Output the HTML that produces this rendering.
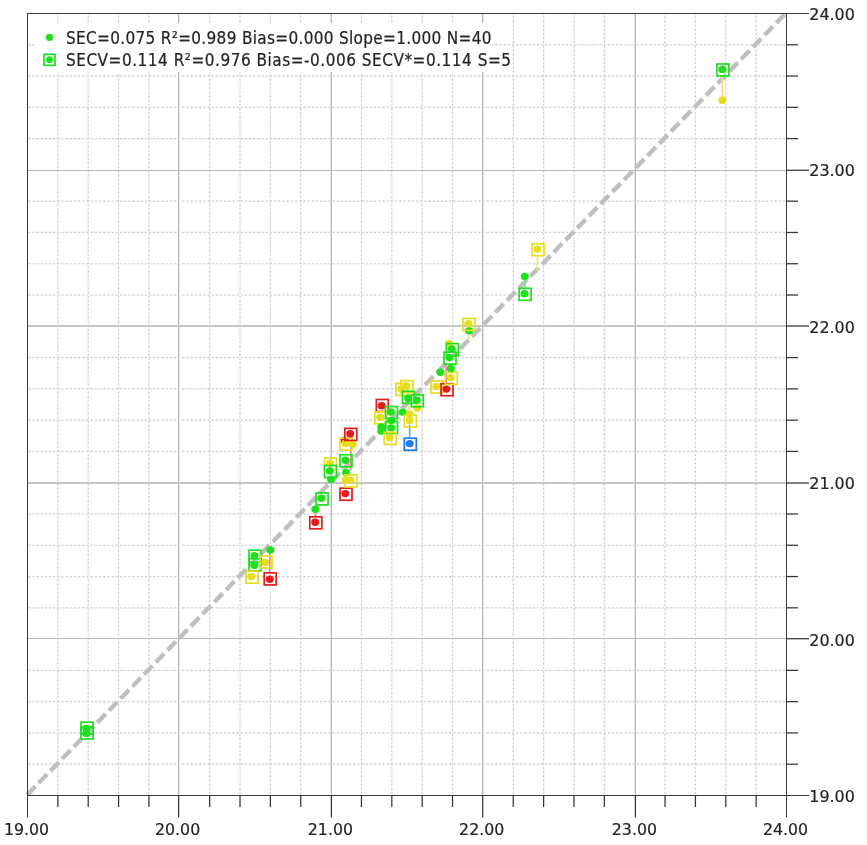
<!DOCTYPE html><html><head><meta charset="utf-8"><style>
html,body{margin:0;padding:0;background:#fff;}
svg{display:block;}
text{font-family:"DejaVu Sans Condensed","DejaVu Sans","Liberation Sans",sans-serif;font-size:17px;fill:#242424;stroke:#242424;stroke-width:0.2px;}
</style></head><body>
<svg width="867" height="845" viewBox="0 0 867 845">
<rect width="867" height="845" fill="#fff"/>

<g stroke="#f3f3f3" stroke-width="1.5" fill="none">
<line x1="57.86" y1="13" x2="57.86" y2="795"/>
<line x1="28" y1="764.22" x2="786" y2="764.22"/>
<line x1="88.22" y1="13" x2="88.22" y2="795"/>
<line x1="28" y1="732.94" x2="786" y2="732.94"/>
<line x1="118.58" y1="13" x2="118.58" y2="795"/>
<line x1="28" y1="701.66" x2="786" y2="701.66"/>
<line x1="148.94" y1="13" x2="148.94" y2="795"/>
<line x1="28" y1="670.38" x2="786" y2="670.38"/>
<line x1="209.66" y1="13" x2="209.66" y2="795"/>
<line x1="28" y1="607.82" x2="786" y2="607.82"/>
<line x1="240.02" y1="13" x2="240.02" y2="795"/>
<line x1="28" y1="576.54" x2="786" y2="576.54"/>
<line x1="270.38" y1="13" x2="270.38" y2="795"/>
<line x1="28" y1="545.26" x2="786" y2="545.26"/>
<line x1="300.74" y1="13" x2="300.74" y2="795"/>
<line x1="28" y1="513.98" x2="786" y2="513.98"/>
<line x1="361.46" y1="13" x2="361.46" y2="795"/>
<line x1="28" y1="451.42" x2="786" y2="451.42"/>
<line x1="391.82" y1="13" x2="391.82" y2="795"/>
<line x1="28" y1="420.14" x2="786" y2="420.14"/>
<line x1="422.18" y1="13" x2="422.18" y2="795"/>
<line x1="28" y1="388.86" x2="786" y2="388.86"/>
<line x1="452.54" y1="13" x2="452.54" y2="795"/>
<line x1="28" y1="357.58" x2="786" y2="357.58"/>
<line x1="513.26" y1="13" x2="513.26" y2="795"/>
<line x1="28" y1="295.02" x2="786" y2="295.02"/>
<line x1="543.62" y1="13" x2="543.62" y2="795"/>
<line x1="28" y1="263.74" x2="786" y2="263.74"/>
<line x1="573.98" y1="13" x2="573.98" y2="795"/>
<line x1="28" y1="232.46" x2="786" y2="232.46"/>
<line x1="604.34" y1="13" x2="604.34" y2="795"/>
<line x1="28" y1="201.18" x2="786" y2="201.18"/>
<line x1="665.06" y1="13" x2="665.06" y2="795"/>
<line x1="28" y1="138.62" x2="786" y2="138.62"/>
<line x1="695.42" y1="13" x2="695.42" y2="795"/>
<line x1="28" y1="107.34" x2="786" y2="107.34"/>
<line x1="725.78" y1="13" x2="725.78" y2="795"/>
<line x1="28" y1="76.06" x2="786" y2="76.06"/>
<line x1="756.14" y1="13" x2="756.14" y2="795"/>
<line x1="28" y1="44.78" x2="786" y2="44.78"/>
</g>
<g stroke="#c4c4c4" stroke-width="1.2" stroke-dasharray="1.4 2.77" fill="none">
<line x1="57.86" y1="12.4" x2="57.86" y2="795"/>
<line x1="28.5" y1="764.22" x2="786" y2="764.22"/>
<line x1="88.22" y1="12.4" x2="88.22" y2="795"/>
<line x1="28.5" y1="732.94" x2="786" y2="732.94"/>
<line x1="118.58" y1="12.4" x2="118.58" y2="795"/>
<line x1="28.5" y1="701.66" x2="786" y2="701.66"/>
<line x1="148.94" y1="12.4" x2="148.94" y2="795"/>
<line x1="28.5" y1="670.38" x2="786" y2="670.38"/>
<line x1="209.66" y1="12.4" x2="209.66" y2="795"/>
<line x1="28.5" y1="607.82" x2="786" y2="607.82"/>
<line x1="240.02" y1="12.4" x2="240.02" y2="795"/>
<line x1="28.5" y1="576.54" x2="786" y2="576.54"/>
<line x1="270.38" y1="12.4" x2="270.38" y2="795"/>
<line x1="28.5" y1="545.26" x2="786" y2="545.26"/>
<line x1="300.74" y1="12.4" x2="300.74" y2="795"/>
<line x1="28.5" y1="513.98" x2="786" y2="513.98"/>
<line x1="361.46" y1="12.4" x2="361.46" y2="795"/>
<line x1="28.5" y1="451.42" x2="786" y2="451.42"/>
<line x1="391.82" y1="12.4" x2="391.82" y2="795"/>
<line x1="28.5" y1="420.14" x2="786" y2="420.14"/>
<line x1="422.18" y1="12.4" x2="422.18" y2="795"/>
<line x1="28.5" y1="388.86" x2="786" y2="388.86"/>
<line x1="452.54" y1="12.4" x2="452.54" y2="795"/>
<line x1="28.5" y1="357.58" x2="786" y2="357.58"/>
<line x1="513.26" y1="12.4" x2="513.26" y2="795"/>
<line x1="28.5" y1="295.02" x2="786" y2="295.02"/>
<line x1="543.62" y1="12.4" x2="543.62" y2="795"/>
<line x1="28.5" y1="263.74" x2="786" y2="263.74"/>
<line x1="573.98" y1="12.4" x2="573.98" y2="795"/>
<line x1="28.5" y1="232.46" x2="786" y2="232.46"/>
<line x1="604.34" y1="12.4" x2="604.34" y2="795"/>
<line x1="28.5" y1="201.18" x2="786" y2="201.18"/>
<line x1="665.06" y1="12.4" x2="665.06" y2="795"/>
<line x1="28.5" y1="138.62" x2="786" y2="138.62"/>
<line x1="695.42" y1="12.4" x2="695.42" y2="795"/>
<line x1="28.5" y1="107.34" x2="786" y2="107.34"/>
<line x1="725.78" y1="12.4" x2="725.78" y2="795"/>
<line x1="28.5" y1="76.06" x2="786" y2="76.06"/>
<line x1="756.14" y1="12.4" x2="756.14" y2="795"/>
<line x1="28.5" y1="44.78" x2="786" y2="44.78"/>
</g>
<g shape-rendering="crispEdges">
<rect x="178" y="13" width="1" height="782" fill="#b4b4b4"/>
<rect x="179" y="13" width="1" height="782" fill="#ececec"/>
<rect x="330" y="13" width="1" height="782" fill="#e6e6e6"/>
<rect x="331" y="13" width="1" height="782" fill="#b8b8b8"/>
<rect x="482" y="13" width="1" height="782" fill="#b8b8b8"/>
<rect x="483" y="13" width="1" height="782" fill="#e6e6e6"/>
<rect x="634" y="13" width="1" height="782" fill="#e6e6e6"/>
<rect x="635" y="13" width="1" height="782" fill="#b8b8b8"/>
<rect x="27" y="170" width="759" height="1" fill="#b8b8b8"/>
<rect x="27" y="325" width="759" height="1" fill="#c6c6c6"/>
<rect x="27" y="326" width="759" height="1" fill="#c6c6c6"/>
<rect x="27" y="482" width="759" height="1" fill="#c6c6c6"/>
<rect x="27" y="483" width="759" height="1" fill="#c6c6c6"/>
<rect x="27" y="638" width="759" height="1" fill="#b6b6b6"/>
</g>
<rect x="35" y="23" width="457" height="49" fill="#fff"/>
<line x1="27" y1="795" x2="786" y2="13" stroke="#bfbfbf" stroke-width="4.4" stroke-dasharray="12 4.81"/>
<line x1="269.8" y1="552" x2="269.8" y2="573" stroke="#f08a8a" stroke-width="1.7"/>
<line x1="315.5" y1="511" x2="315.5" y2="517" stroke="#f08a8a" stroke-width="1.7"/>
<line x1="350.8" y1="441" x2="350.8" y2="470" stroke="#f08a8a" stroke-width="1.7"/>
<line x1="409.0" y1="403" x2="409.0" y2="415" stroke="#eee67a" stroke-width="1.7"/>
<line x1="409.7" y1="425" x2="409.7" y2="437.5" stroke="#6aa8f0" stroke-width="1.7"/>
<line x1="446.1" y1="365" x2="446.1" y2="383.5" stroke="#f08a8a" stroke-width="1.7"/>
<line x1="468.6" y1="331" x2="468.6" y2="340.4" stroke="#eee67a" stroke-width="1.7"/>
<line x1="537.4" y1="256.5" x2="537.4" y2="271" stroke="#eee67a" stroke-width="1.7"/>
<line x1="525.0" y1="280" x2="525.0" y2="288" stroke="#7fe87f" stroke-width="1.7"/>
<line x1="722.3" y1="77" x2="722.3" y2="100" stroke="#eee67a" stroke-width="1.7"/>
<rect x="81.0" y="722.2" width="12" height="12" fill="none" stroke="#1ee11e" stroke-width="1.7"/>
<ellipse cx="86.3" cy="728.4" rx="4.0" ry="3.7" fill="#1ee11e"/>
<rect x="81.0" y="727.0" width="12" height="12" fill="none" stroke="#1ee11e" stroke-width="1.7"/>
<ellipse cx="86.3" cy="733.4" rx="4.0" ry="3.7" fill="#1ee11e"/>
<rect x="249.0" y="550.2" width="12" height="12" fill="none" stroke="#1ee11e" stroke-width="1.7"/>
<ellipse cx="254.4" cy="555.6" rx="4.0" ry="3.7" fill="#1ee11e"/>
<rect x="249.0" y="558.8" width="12" height="12" fill="none" stroke="#1ee11e" stroke-width="1.7"/>
<ellipse cx="254.4" cy="565.2" rx="4.0" ry="3.7" fill="#1ee11e"/>
<rect x="260.0" y="556.0" width="12" height="12" fill="none" stroke="#e6dd1e" stroke-width="1.7"/>
<ellipse cx="265.4" cy="562.5" rx="4.0" ry="3.7" fill="#e6dd1e"/>
<ellipse cx="270.3" cy="550.0" rx="4.0" ry="3.7" fill="#1ee11e"/>
<rect x="264.2" y="572.9" width="12" height="12" fill="none" stroke="#e21c1c" stroke-width="1.7"/>
<ellipse cx="269.8" cy="579.3" rx="4.0" ry="3.7" fill="#e21c1c"/>
<rect x="246.0" y="571.2" width="12" height="12" fill="none" stroke="#e6dd1e" stroke-width="1.7"/>
<ellipse cx="251.4" cy="576.6" rx="4.0" ry="3.7" fill="#e6dd1e"/>
<rect x="316.1" y="492.9" width="12" height="12" fill="none" stroke="#1ee11e" stroke-width="1.7"/>
<ellipse cx="321.5" cy="498.3" rx="4.0" ry="3.7" fill="#1ee11e"/>
<ellipse cx="315.3" cy="509.3" rx="4.0" ry="3.7" fill="#1ee11e"/>
<rect x="309.8" y="516.8" width="12" height="12" fill="none" stroke="#e21c1c" stroke-width="1.7"/>
<ellipse cx="315.2" cy="522.2" rx="4.0" ry="3.7" fill="#e21c1c"/>
<rect x="340.0" y="488.2" width="12" height="12" fill="none" stroke="#e21c1c" stroke-width="1.7"/>
<ellipse cx="345.4" cy="493.6" rx="4.0" ry="3.7" fill="#e21c1c"/>
<ellipse cx="346.0" cy="472.4" rx="4.0" ry="3.7" fill="#1ee11e"/>
<rect x="345.0" y="474.9" width="12" height="12" fill="none" stroke="#e6dd1e" stroke-width="1.7"/>
<ellipse cx="350.4" cy="480.3" rx="4.0" ry="3.7" fill="#e6dd1e"/>
<ellipse cx="345.8" cy="479.8" rx="4.0" ry="3.7" fill="#e6dd1e"/>
<rect x="340.0" y="454.8" width="12" height="12" fill="none" stroke="#1ee11e" stroke-width="1.7"/>
<ellipse cx="345.4" cy="460.2" rx="4.0" ry="3.7" fill="#1ee11e"/>
<ellipse cx="344.5" cy="440.5" rx="4.0" ry="3.7" fill="#e21c1c"/>
<rect x="340.0" y="438.1" width="12" height="12" fill="none" stroke="#e6dd1e" stroke-width="1.7"/>
<ellipse cx="345.4" cy="443.5" rx="4.0" ry="3.7" fill="#e6dd1e"/>
<ellipse cx="352.8" cy="444.2" rx="4.0" ry="3.7" fill="#e6dd1e"/>
<rect x="344.8" y="428.4" width="12" height="12" fill="none" stroke="#e21c1c" stroke-width="1.7"/>
<ellipse cx="350.2" cy="433.8" rx="4.0" ry="3.7" fill="#e21c1c"/>
<rect x="324.5" y="458.0" width="12" height="12" fill="none" stroke="#e6dd1e" stroke-width="1.7"/>
<ellipse cx="329.9" cy="463.4" rx="4.0" ry="3.7" fill="#e6dd1e"/>
<rect x="324.5" y="465.5" width="12" height="12" fill="none" stroke="#1ee11e" stroke-width="1.7"/>
<ellipse cx="329.9" cy="470.9" rx="4.0" ry="3.7" fill="#1ee11e"/>
<ellipse cx="331.0" cy="479.5" rx="4.0" ry="3.7" fill="#1ee11e"/>
<rect x="376.3" y="399.5" width="12" height="12" fill="none" stroke="#e21c1c" stroke-width="1.7"/>
<ellipse cx="381.7" cy="405.7" rx="4.0" ry="3.7" fill="#e21c1c"/>
<rect x="374.8" y="411.8" width="12" height="12" fill="none" stroke="#e6dd1e" stroke-width="1.7"/>
<ellipse cx="380.2" cy="417.2" rx="4.0" ry="3.7" fill="#e6dd1e"/>
<ellipse cx="381.3" cy="427.0" rx="4.0" ry="3.7" fill="#1ee11e"/>
<ellipse cx="381.3" cy="431.0" rx="4.0" ry="3.7" fill="#1ee11e"/>
<rect x="385.5" y="406.6" width="12" height="12" fill="none" stroke="#1ee11e" stroke-width="1.7"/>
<ellipse cx="390.9" cy="412.0" rx="4.0" ry="3.7" fill="#1ee11e"/>
<ellipse cx="391.4" cy="420.4" rx="4.0" ry="3.7" fill="#1ee11e"/>
<rect x="385.5" y="421.5" width="12" height="12" fill="none" stroke="#1ee11e" stroke-width="1.7"/>
<ellipse cx="391.1" cy="427.9" rx="4.0" ry="3.7" fill="#1ee11e"/>
<rect x="384.2" y="432.4" width="12" height="12" fill="none" stroke="#e6dd1e" stroke-width="1.7"/>
<ellipse cx="389.6" cy="437.8" rx="4.0" ry="3.7" fill="#e6dd1e"/>
<rect x="395.9" y="383.5" width="12" height="12" fill="none" stroke="#e6dd1e" stroke-width="1.7"/>
<ellipse cx="401.3" cy="388.9" rx="4.0" ry="3.7" fill="#e6dd1e"/>
<rect x="400.8" y="380.6" width="12" height="12" fill="none" stroke="#e6dd1e" stroke-width="1.7"/>
<ellipse cx="406.2" cy="386.0" rx="4.0" ry="3.7" fill="#e6dd1e"/>
<rect x="402.5" y="391.3" width="12" height="12" fill="none" stroke="#1ee11e" stroke-width="1.7"/>
<ellipse cx="408.2" cy="398.2" rx="4.0" ry="3.7" fill="#1ee11e"/>
<ellipse cx="417.4" cy="408.0" rx="4.0" ry="3.7" fill="#e6dd1e"/>
<rect x="411.4" y="394.8" width="12" height="12" fill="none" stroke="#1ee11e" stroke-width="1.7"/>
<ellipse cx="416.8" cy="400.2" rx="4.0" ry="3.7" fill="#1ee11e"/>
<ellipse cx="402.6" cy="412.1" rx="4.0" ry="3.7" fill="#1ee11e"/>
<ellipse cx="409.7" cy="414.0" rx="4.0" ry="3.7" fill="#e6dd1e"/>
<rect x="404.3" y="415.1" width="12" height="12" fill="none" stroke="#e6dd1e" stroke-width="1.7"/>
<ellipse cx="409.7" cy="420.5" rx="4.0" ry="3.7" fill="#e6dd1e"/>
<rect x="404.3" y="438.2" width="12" height="12" fill="none" stroke="#1e78e6" stroke-width="1.7"/>
<ellipse cx="409.7" cy="443.6" rx="4.0" ry="3.7" fill="#1e78e6"/>
<rect x="431.0" y="381.0" width="12" height="12" fill="none" stroke="#e6dd1e" stroke-width="1.7"/>
<ellipse cx="436.4" cy="386.4" rx="4.0" ry="3.7" fill="#e6dd1e"/>
<rect x="441.0" y="383.7" width="12" height="12" fill="none" stroke="#e21c1c" stroke-width="1.7"/>
<ellipse cx="446.4" cy="389.1" rx="4.0" ry="3.7" fill="#e21c1c"/>
<rect x="445.3" y="372.3" width="12" height="12" fill="none" stroke="#e6dd1e" stroke-width="1.7"/>
<ellipse cx="450.7" cy="377.7" rx="4.0" ry="3.7" fill="#e6dd1e"/>
<ellipse cx="440.4" cy="372.3" rx="4.0" ry="3.7" fill="#1ee11e"/>
<ellipse cx="450.9" cy="368.4" rx="4.0" ry="3.7" fill="#1ee11e"/>
<rect x="444.0" y="352.1" width="12" height="12" fill="none" stroke="#1ee11e" stroke-width="1.7"/>
<ellipse cx="449.4" cy="357.5" rx="4.0" ry="3.7" fill="#1ee11e"/>
<ellipse cx="448.8" cy="343.6" rx="4.0" ry="3.7" fill="#e6dd1e"/>
<rect x="446.4" y="343.6" width="12" height="12" fill="none" stroke="#1ee11e" stroke-width="1.7"/>
<ellipse cx="451.8" cy="349.0" rx="4.0" ry="3.7" fill="#1ee11e"/>
<ellipse cx="469.0" cy="330.8" rx="4.0" ry="3.7" fill="#1ee11e"/>
<rect x="463.0" y="318.4" width="12" height="12" fill="none" stroke="#e6dd1e" stroke-width="1.7"/>
<ellipse cx="468.4" cy="323.8" rx="4.0" ry="3.7" fill="#e6dd1e"/>
<rect x="532.0" y="243.7" width="12" height="12" fill="none" stroke="#e6dd1e" stroke-width="1.7"/>
<ellipse cx="537.4" cy="249.1" rx="4.0" ry="3.7" fill="#e6dd1e"/>
<ellipse cx="524.8" cy="276.4" rx="4.0" ry="3.7" fill="#1ee11e"/>
<rect x="519.1" y="288.3" width="12" height="12" fill="none" stroke="#1ee11e" stroke-width="1.7"/>
<ellipse cx="524.5" cy="293.7" rx="4.0" ry="3.7" fill="#1ee11e"/>
<ellipse cx="722.3" cy="100.2" rx="4.0" ry="3.7" fill="#e6dd1e"/>
<rect x="716.9" y="64.0" width="12" height="12" fill="none" stroke="#1ee11e" stroke-width="1.7"/>
<ellipse cx="722.3" cy="69.4" rx="4.0" ry="3.7" fill="#1ee11e"/>
<g stroke="#3a3a3a" stroke-width="1" fill="none">
<line x1="27.5" y1="13" x2="27.5" y2="817.5"/>
<line x1="786.5" y1="13" x2="786.5" y2="817.5"/>
<line x1="27" y1="13.5" x2="809" y2="13.5"/>
<line x1="27" y1="795.5" x2="809" y2="795.5"/>
</g>
<g stroke="#333" stroke-width="1.25" fill="none">
<line x1="57.86" y1="795" x2="57.86" y2="807"/>
<line x1="786" y1="764.22" x2="798" y2="764.22"/>
<line x1="88.22" y1="795" x2="88.22" y2="807"/>
<line x1="786" y1="732.94" x2="798" y2="732.94"/>
<line x1="118.58" y1="795" x2="118.58" y2="807"/>
<line x1="786" y1="701.66" x2="798" y2="701.66"/>
<line x1="148.94" y1="795" x2="148.94" y2="807"/>
<line x1="786" y1="670.38" x2="798" y2="670.38"/>
<line x1="209.66" y1="795" x2="209.66" y2="807"/>
<line x1="786" y1="607.82" x2="798" y2="607.82"/>
<line x1="240.02" y1="795" x2="240.02" y2="807"/>
<line x1="786" y1="576.54" x2="798" y2="576.54"/>
<line x1="270.38" y1="795" x2="270.38" y2="807"/>
<line x1="786" y1="545.26" x2="798" y2="545.26"/>
<line x1="300.74" y1="795" x2="300.74" y2="807"/>
<line x1="786" y1="513.98" x2="798" y2="513.98"/>
<line x1="361.46" y1="795" x2="361.46" y2="807"/>
<line x1="786" y1="451.42" x2="798" y2="451.42"/>
<line x1="391.82" y1="795" x2="391.82" y2="807"/>
<line x1="786" y1="420.14" x2="798" y2="420.14"/>
<line x1="422.18" y1="795" x2="422.18" y2="807"/>
<line x1="786" y1="388.86" x2="798" y2="388.86"/>
<line x1="452.54" y1="795" x2="452.54" y2="807"/>
<line x1="786" y1="357.58" x2="798" y2="357.58"/>
<line x1="513.26" y1="795" x2="513.26" y2="807"/>
<line x1="786" y1="295.02" x2="798" y2="295.02"/>
<line x1="543.62" y1="795" x2="543.62" y2="807"/>
<line x1="786" y1="263.74" x2="798" y2="263.74"/>
<line x1="573.98" y1="795" x2="573.98" y2="807"/>
<line x1="786" y1="232.46" x2="798" y2="232.46"/>
<line x1="604.34" y1="795" x2="604.34" y2="807"/>
<line x1="786" y1="201.18" x2="798" y2="201.18"/>
<line x1="665.06" y1="795" x2="665.06" y2="807"/>
<line x1="786" y1="138.62" x2="798" y2="138.62"/>
<line x1="695.42" y1="795" x2="695.42" y2="807"/>
<line x1="786" y1="107.34" x2="798" y2="107.34"/>
<line x1="725.78" y1="795" x2="725.78" y2="807"/>
<line x1="786" y1="76.06" x2="798" y2="76.06"/>
<line x1="756.14" y1="795" x2="756.14" y2="807"/>
<line x1="786" y1="44.78" x2="798" y2="44.78"/>
<line x1="178.6" y1="795" x2="178.6" y2="817.5"/>
<line x1="331.4" y1="795" x2="331.4" y2="817.5"/>
<line x1="482.7" y1="795" x2="482.7" y2="817.5"/>
<line x1="635.4" y1="795" x2="635.4" y2="817.5"/>
<line x1="786" y1="638.7" x2="809" y2="638.7"/>
<line x1="786" y1="483.0" x2="809" y2="483.0"/>
<line x1="786" y1="326.0" x2="809" y2="326.0"/>
<line x1="786" y1="170.3" x2="809" y2="170.3"/>
</g>
<circle cx="49.5" cy="37.3" r="3.6" fill="#1ee11e"/>
<rect x="44" y="54.3" width="11" height="11" fill="none" stroke="#1ee11e" stroke-width="1.7"/>
<circle cx="49.5" cy="59.7" r="3.4" fill="#1ee11e"/>
<text x="66" y="43.5" textLength="425.5" lengthAdjust="spacing">SEC=0.075 R²=0.989 Bias=0.000 Slope=1.000 N=40</text>
<text x="66" y="65.5" textLength="445" lengthAdjust="spacing">SECV=0.114 R²=0.976 Bias=-0.006 SECV*=0.114 S=5</text>
<text x="3.90" y="835.4" textLength="45.2" lengthAdjust="spacingAndGlyphs" style="font-size:16.5px">19.00</text>
<text x="155.00" y="835.4" textLength="45.2" lengthAdjust="spacingAndGlyphs" style="font-size:16.5px">20.00</text>
<text x="307.80" y="835.4" textLength="45.2" lengthAdjust="spacingAndGlyphs" style="font-size:16.5px">21.00</text>
<text x="459.10" y="835.4" textLength="45.2" lengthAdjust="spacingAndGlyphs" style="font-size:16.5px">22.00</text>
<text x="611.80" y="835.4" textLength="45.2" lengthAdjust="spacingAndGlyphs" style="font-size:16.5px">23.00</text>
<text x="762.90" y="835.4" textLength="45.2" lengthAdjust="spacingAndGlyphs" style="font-size:16.5px">24.00</text>
<text x="809.3" y="802.0" textLength="45.5" lengthAdjust="spacingAndGlyphs" style="font-size:16.5px">19.00</text>
<text x="809.3" y="645.6" textLength="45.5" lengthAdjust="spacingAndGlyphs" style="font-size:16.5px">20.00</text>
<text x="809.3" y="489.2" textLength="45.5" lengthAdjust="spacingAndGlyphs" style="font-size:16.5px">21.00</text>
<text x="809.3" y="332.8" textLength="45.5" lengthAdjust="spacingAndGlyphs" style="font-size:16.5px">22.00</text>
<text x="809.3" y="176.4" textLength="45.5" lengthAdjust="spacingAndGlyphs" style="font-size:16.5px">23.00</text>
<text x="809.3" y="20.0" textLength="45.5" lengthAdjust="spacingAndGlyphs" style="font-size:16.5px">24.00</text>
</svg></body></html>
